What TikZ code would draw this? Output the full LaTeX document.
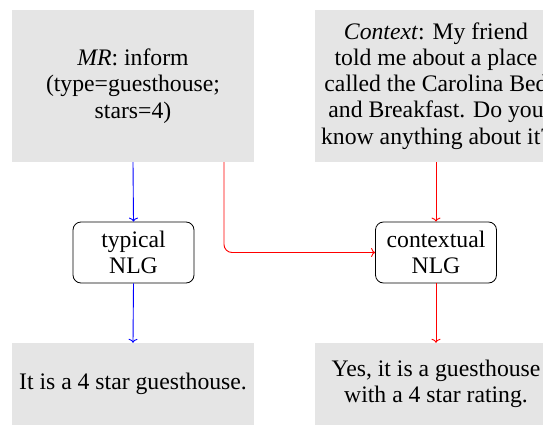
\documentclass[tikz,border=0pt]{standalone}
\usepackage{fontspec}
\setmainfont{Liberation Serif}
\usetikzlibrary{arrows.meta}
\begin{document}
\begin{tikzpicture}[x=1pt,y=-1pt,
  every node/.style={font=\fontsize{23.7}{26.2}\selectfont, align=center, inner sep=0pt},
  inbox/.style={fill=gray!20, minimum width=242pt, minimum height=152pt},
  outbox/.style={fill=gray!20, minimum width=242pt, minimum height=82pt},
  nlgbox/.style={draw, rounded corners=8pt, line width=0.8pt, minimum width=121pt, minimum height=61pt},
  link/.style={line width=0.9pt, -{To[length=4pt, width=9pt]}}
]
\clip (0,0) rectangle (543,428);
\node[inbox] (mr) at (133,86) {\textit{MR}: inform\\(type=guesthouse;\\stars=4)};
\node[inbox] (ctx) at (436,86) {\textit{Context}: My friend\\told me about a place\\called the Carolina Bed\\and Breakfast. Do you\\know anything about it?};
\node[nlgbox] (typ) at (133.5,252.5) {typical\\NLG};
\node[nlgbox] (cnlg) at (436,252.5) {contextual\\NLG};
\node[outbox] (out1) at (133,384) {It is a 4 star guesthouse.};
\node[outbox] (out2) at (436,384) {Yes, it is a guesthouse\\with a 4 star rating.};
\draw[link, blue] (mr.south) -- (typ.north);
\draw[link, blue] (typ.south) -- (out1.north);
\draw[link, red] (ctx.south) -- (cnlg.north);
\draw[link, red] (cnlg.south) -- (out2.north);
\draw[link, red, rounded corners=8pt] ([xshift=91pt]mr.south) |- (cnlg.west);
\end{tikzpicture}
\end{document}
